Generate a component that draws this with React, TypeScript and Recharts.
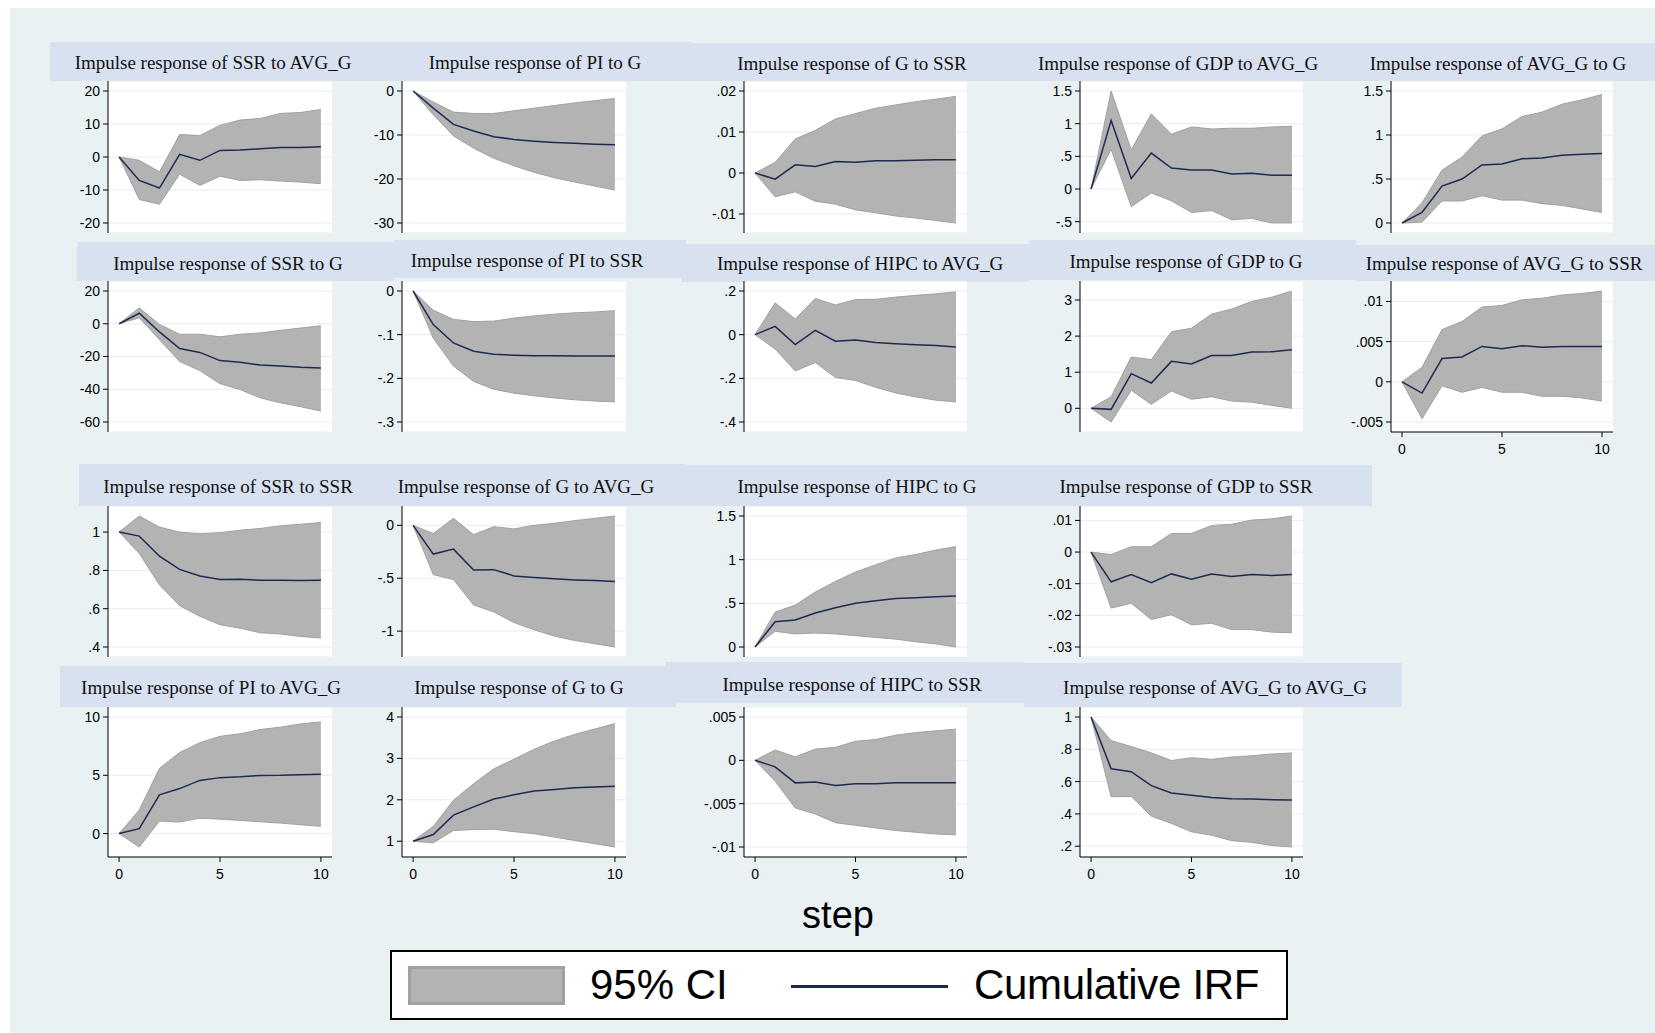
import React from "react";
import { ComposedChart, Area, Line, XAxis, YAxis, CartesianGrid } from "recharts";

// steps 0..10
const steps = [0, 1, 2, 3, 4, 5, 6, 7, 8, 9, 10];
const stepTicks = [0, 5, 10];

// row 1
const ssrAvgIrf = [0, -7.1, -9.4, 0.8, -1.0, 2.0, 2.1, 2.5, 2.9, 2.9, 3.1];
const ssrAvgHi = [0, -1.0, -4.5, 6.8, 6.5, 9.6, 11.2, 11.7, 13.2, 13.5, 14.4];
const ssrAvgLo = [0, -12.9, -14.3, -5.2, -8.6, -5.8, -7.1, -6.9, -7.3, -7.6, -8.1];

const piGIrf = [0, -3.9, -7.6, -9.1, -10.4, -11.0, -11.4, -11.7, -11.9, -12.1, -12.2];
const piGHi = [0, -2.5, -4.8, -5.1, -5.1, -4.5, -3.9, -3.3, -2.7, -2.2, -1.7];
const piGLo = [0, -5.4, -10.2, -13.0, -15.3, -17.0, -18.5, -19.7, -20.7, -21.6, -22.5];

const gSsrIrf = [0, -0.0015, 0.002, 0.0016, 0.0028, 0.0026, 0.003, 0.003, 0.0031, 0.0032, 0.0032];
const gSsrHi = [0, 0.0026, 0.0083, 0.0104, 0.0132, 0.0145, 0.0158, 0.0166, 0.0174, 0.018, 0.0187];
const gSsrLo = [0, -0.0058, -0.0046, -0.0069, -0.0076, -0.009, -0.0097, -0.0105, -0.011, -0.0116, -0.0122];

const gdpAvgIrf = [0, 1.05, 0.16, 0.55, 0.32, 0.29, 0.29, 0.23, 0.24, 0.21, 0.21];
const gdpAvgHi = [0, 1.5, 0.6, 1.15, 0.84, 0.95, 0.92, 0.93, 0.93, 0.95, 0.96];
const gdpAvgLo = [0, 0.61, -0.27, -0.06, -0.18, -0.36, -0.33, -0.47, -0.45, -0.52, -0.52];

const avgGIrf = [0, 0.12, 0.42, 0.5, 0.66, 0.67, 0.73, 0.74, 0.77, 0.78, 0.79];
const avgGHi = [0, 0.23, 0.6, 0.75, 0.99, 1.07, 1.21, 1.26, 1.35, 1.4, 1.46];
const avgGLo = [0, 0.01, 0.25, 0.25, 0.31, 0.26, 0.26, 0.22, 0.2, 0.16, 0.12];

// row 2
const ssrGIrf = [0, 6.4, -5, -15.1, -17.5, -22.5, -23.5, -25.2, -25.8, -26.6, -27];
const ssrGHi = [0, 9.7, -0.4, -6.4, -6.4, -8, -6.4, -5.6, -4, -2.6, -1.2];
const ssrGLo = [0, 3.6, -9.7, -23.1, -28.6, -36.6, -40.2, -45.3, -48.3, -50.7, -53.3];

const piSsrIrf = [0, -0.077, -0.119, -0.138, -0.145, -0.147, -0.148, -0.148, -0.149, -0.149, -0.149];
const piSsrHi = [0, -0.044, -0.065, -0.07, -0.069, -0.062, -0.057, -0.053, -0.05, -0.048, -0.045];
const piSsrLo = [0, -0.108, -0.172, -0.207, -0.225, -0.234, -0.24, -0.245, -0.249, -0.252, -0.254];

const hipcAvgIrf = [0, 0.038, -0.045, 0.02, -0.03, -0.024, -0.036, -0.042, -0.046, -0.05, -0.056];
const hipcAvgHi = [0, 0.146, 0.072, 0.166, 0.136, 0.161, 0.162, 0.172, 0.18, 0.187, 0.196];
const hipcAvgLo = [0, -0.066, -0.166, -0.128, -0.196, -0.21, -0.241, -0.267, -0.285, -0.3, -0.308];

const gdpGIrf = [0, -0.03, 0.96, 0.7, 1.3, 1.23, 1.46, 1.46, 1.56, 1.57, 1.62];
const gdpGHi = [0, 0.32, 1.42, 1.35, 2.12, 2.22, 2.61, 2.75, 2.96, 3.08, 3.25];
const gdpGLo = [0, -0.38, 0.5, 0.11, 0.48, 0.25, 0.32, 0.2, 0.17, 0.08, 0.0];

const avgSsrIrf = [0, -0.0014, 0.0029, 0.0031, 0.0044, 0.0041, 0.0045, 0.0043, 0.0044, 0.0044, 0.0044];
const avgSsrHi = [0, 0.0018, 0.0065, 0.0075, 0.0093, 0.0095, 0.0102, 0.0104, 0.0108, 0.011, 0.0113];
const avgSsrLo = [0, -0.0046, -0.0005, -0.0013, -0.0007, -0.0013, -0.0013, -0.0018, -0.0018, -0.002, -0.0024];

// row 3
const ssrSsrIrf = [1, 0.979, 0.874, 0.805, 0.771, 0.753, 0.754, 0.748, 0.749, 0.747, 0.748];
const ssrSsrHi = [1, 1.084, 1.026, 1.0, 0.991, 0.997, 1.01, 1.019, 1.033, 1.041, 1.05];
const ssrSsrLo = [1, 0.888, 0.724, 0.616, 0.56, 0.516, 0.498, 0.474, 0.468, 0.455, 0.447];

const gAvgIrf = [0, -0.272, -0.225, -0.422, -0.419, -0.478, -0.494, -0.506, -0.516, -0.522, -0.531];
const gAvgHi = [0, -0.078, 0.066, -0.088, -0.013, -0.034, 0.0, 0.019, 0.044, 0.066, 0.088];
const gAvgLo = [0, -0.466, -0.513, -0.753, -0.819, -0.919, -0.988, -1.047, -1.088, -1.119, -1.15];

const hipcGIrf = [0, 0.29, 0.31, 0.39, 0.45, 0.5, 0.53, 0.555, 0.565, 0.575, 0.583];
const hipcGHi = [0, 0.4, 0.48, 0.63, 0.75, 0.86, 0.94, 1.02, 1.06, 1.11, 1.15];
const hipcGLo = [0, 0.18, 0.15, 0.16, 0.15, 0.13, 0.11, 0.09, 0.06, 0.035, 0.0];

const gdpSsrIrf = [0, -0.0094, -0.0071, -0.0097, -0.0069, -0.0086, -0.0069, -0.0077, -0.0071, -0.0074, -0.0071];
const gdpSsrHi = [0, -0.0008, 0.0017, 0.0017, 0.0059, 0.0059, 0.0084, 0.0088, 0.0101, 0.0105, 0.0114];
const gdpSsrLo = [0, -0.0177, -0.0162, -0.0213, -0.0198, -0.023, -0.0225, -0.0245, -0.0245, -0.0253, -0.0255];

// row 4
const piAvgIrf = [0, 0.42, 3.32, 3.86, 4.56, 4.8, 4.87, 4.99, 5.0, 5.05, 5.1];
const piAvgHi = [0, 2.03, 5.6, 6.96, 7.8, 8.34, 8.56, 8.93, 9.13, 9.41, 9.58];
const piAvgLo = [0, -1.15, 1.07, 0.99, 1.32, 1.24, 1.13, 1.01, 0.9, 0.76, 0.62];

const gGIrf = [1, 1.16, 1.63, 1.83, 2.02, 2.12, 2.21, 2.25, 2.29, 2.31, 2.33];
const gGHi = [1, 1.36, 1.99, 2.39, 2.75, 2.98, 3.22, 3.42, 3.58, 3.71, 3.84];
const gGLo = [1, 0.96, 1.26, 1.28, 1.29, 1.23, 1.18, 1.1, 1.02, 0.94, 0.86];

const hipcSsrIrf = [0, -0.00075, -0.0026, -0.0025, -0.0029, -0.0027, -0.0027, -0.0026, -0.0026, -0.0026, -0.0026];
const hipcSsrHi = [0, 0.0012, 0.0004, 0.0013, 0.0015, 0.0022, 0.0024, 0.0029, 0.0032, 0.0034, 0.0036];
const hipcSsrLo = [0, -0.0024, -0.0055, -0.0062, -0.0072, -0.0075, -0.0078, -0.0081, -0.0083, -0.0085, -0.0086];

const avgAvgIrf = [1, 0.679, 0.661, 0.575, 0.53, 0.516, 0.502, 0.494, 0.492, 0.488, 0.486];
const avgAvgHi = [1, 0.854, 0.817, 0.778, 0.73, 0.748, 0.738, 0.752, 0.76, 0.771, 0.777];
const avgAvgLo = [1, 0.506, 0.508, 0.386, 0.341, 0.289, 0.268, 0.234, 0.224, 0.204, 0.195];

const BG = "#e9f1f3";
const BAND = "#d8e1f0";
const CI_FILL = "#b3b3b3";
const CI_EDGE = "#a1a1a1";
const NAVY = "#1d2b52";
const GRID = "#e5edf0";
const YW = 70;
const XH = 34;

const colX = [108, 402, 744, 1080, 1391];
const colW = [224, 224, 223, 223, 222];
const rowTop = [81, 281, 506, 707];
const rowH = [152, 151, 151, 150];

type Panel = {
  row: number;
  col: number;
  irf: number[];
  hi: number[];
  lo: number[];
  ticks: number[];
  showX?: boolean;
};

const panels: Panel[] = [
  { row: 0, col: 0, irf: ssrAvgIrf, hi: ssrAvgHi, lo: ssrAvgLo, ticks: [-20, -10, 0, 10, 20] },
  { row: 0, col: 1, irf: piGIrf, hi: piGHi, lo: piGLo, ticks: [-30, -20, -10, 0] },
  { row: 0, col: 2, irf: gSsrIrf, hi: gSsrHi, lo: gSsrLo, ticks: [-0.01, 0, 0.01, 0.02] },
  { row: 0, col: 3, irf: gdpAvgIrf, hi: gdpAvgHi, lo: gdpAvgLo, ticks: [-0.5, 0, 0.5, 1, 1.5] },
  { row: 0, col: 4, irf: avgGIrf, hi: avgGHi, lo: avgGLo, ticks: [0, 0.5, 1, 1.5] },
  { row: 1, col: 0, irf: ssrGIrf, hi: ssrGHi, lo: ssrGLo, ticks: [-60, -40, -20, 0, 20] },
  { row: 1, col: 1, irf: piSsrIrf, hi: piSsrHi, lo: piSsrLo, ticks: [-0.3, -0.2, -0.1, 0] },
  { row: 1, col: 2, irf: hipcAvgIrf, hi: hipcAvgHi, lo: hipcAvgLo, ticks: [-0.4, -0.2, 0, 0.2] },
  { row: 1, col: 3, irf: gdpGIrf, hi: gdpGHi, lo: gdpGLo, ticks: [0, 1, 2, 3] },
  { row: 1, col: 4, irf: avgSsrIrf, hi: avgSsrHi, lo: avgSsrLo, ticks: [-0.005, 0, 0.005, 0.01], showX: true },
  { row: 2, col: 0, irf: ssrSsrIrf, hi: ssrSsrHi, lo: ssrSsrLo, ticks: [0.4, 0.6, 0.8, 1] },
  { row: 2, col: 1, irf: gAvgIrf, hi: gAvgHi, lo: gAvgLo, ticks: [-1, -0.5, 0] },
  { row: 2, col: 2, irf: hipcGIrf, hi: hipcGHi, lo: hipcGLo, ticks: [0, 0.5, 1, 1.5] },
  { row: 2, col: 3, irf: gdpSsrIrf, hi: gdpSsrHi, lo: gdpSsrLo, ticks: [-0.03, -0.02, -0.01, 0, 0.01] },
  { row: 3, col: 0, irf: piAvgIrf, hi: piAvgHi, lo: piAvgLo, ticks: [0, 5, 10], showX: true },
  { row: 3, col: 1, irf: gGIrf, hi: gGHi, lo: gGLo, ticks: [1, 2, 3, 4], showX: true },
  { row: 3, col: 2, irf: hipcSsrIrf, hi: hipcSsrHi, lo: hipcSsrLo, ticks: [-0.01, -0.005, 0, 0.005], showX: true },
  { row: 3, col: 3, irf: avgAvgIrf, hi: avgAvgHi, lo: avgAvgLo, ticks: [0.2, 0.4, 0.6, 0.8, 1], showX: true },
];

// subtitle bands: [left, top, width, height, text centre x, text centre y]
const titles: { text: string; box: number[] }[] = [
  { text: "Impulse response of SSR to AVG_G", box: [50, 42, 327, 39, 213, 63] },
  { text: "Impulse response of PI to G", box: [377, 42, 314, 39, 535, 63] },
  { text: "Impulse response of G to SSR", box: [691, 43, 338, 38, 852, 64] },
  { text: "Impulse response of GDP to AVG_G", box: [1029, 43, 311, 38, 1178, 64] },
  { text: "Impulse response of AVG_G to G", box: [1340, 43, 315, 38, 1498, 64] },
  { text: "Impulse response of SSR to G", box: [77, 242, 317, 39, 228, 264] },
  { text: "Impulse response of PI to SSR", box: [394, 240, 292, 38, 527, 261] },
  { text: "Impulse response of HIPC to AVG_G", box: [681, 244, 348, 38, 860, 264] },
  { text: "Impulse response of GDP to G", box: [1029, 240, 327, 40, 1186, 262] },
  { text: "Impulse response of AVG_G to SSR", box: [1356, 245, 299, 36, 1504, 264] },
  { text: "Impulse response of SSR to SSR", box: [79, 464, 301, 42, 228, 487] },
  { text: "Impulse response of G to AVG_G", box: [380, 464, 306, 42, 526, 487] },
  { text: "Impulse response of HIPC to G", box: [686, 465, 343, 41, 857, 487] },
  { text: "Impulse response of GDP to SSR", box: [1029, 465, 343, 41, 1186, 487] },
  { text: "Impulse response of PI to AVG_G", box: [60, 666, 309, 41, 211, 688] },
  { text: "Impulse response of G to G", box: [369, 666, 307, 41, 519, 688] },
  { text: "Impulse response of HIPC to SSR", box: [665, 662, 359, 41, 852, 685] },
  { text: "Impulse response of AVG_G to AVG_G", box: [1024, 663, 378, 44, 1215, 688] },
];

const fmt = (v: number) => String(Number(v.toPrecision(6))).replace(/^(-?)0\./, "$1.");

const tickStyle = { fontSize: 14, fill: "#000", fontFamily: "'Liberation Sans', Arial, sans-serif" };

function IrfPanel({ p }: { p: Panel }) {
  const plotW = colW[p.col];
  const plotH = rowH[p.row];
  const h = plotH + (p.showX ? XH : 0);
  const data = steps.map((s, i) => ({ step: s, irf: p.irf[i], ci: [p.lo[i], p.hi[i]] }));
  const lo0 = Math.min(p.ticks[0], ...p.lo);
  const hi0 = Math.max(p.ticks[p.ticks.length - 1], ...p.hi);
  const pad = (10 * (hi0 - lo0)) / (plotH - 20);
  return (
    <div style={{ position: "absolute", left: colX[p.col] - YW, top: rowTop[p.row], width: YW + plotW, height: h }}>
      <ComposedChart width={YW + plotW} height={h} data={data} margin={{ top: 0, right: 0, bottom: 0, left: 0 }}>
        <CartesianGrid vertical={false} stroke={GRID} fill="#ffffff" />
        <XAxis
          dataKey="step"
          type="number"
          domain={[-0.55, 10.55]}
          ticks={stepTicks}
          hide={!p.showX}
          height={XH}
          allowDataOverflow
          stroke="#000"
          tickSize={5}
          tick={tickStyle}
          tickMargin={7}
        />
        <YAxis
          type="number"
          domain={[lo0 - pad, hi0 + pad]}
          ticks={p.ticks}
          allowDataOverflow
          width={YW}
          stroke="#000"
          tickSize={5}
          tickMargin={3}
          tick={tickStyle}
          tickFormatter={fmt}
        />
        <Area
          dataKey="ci"
          type="linear"
          fill={CI_FILL}
          fillOpacity={1}
          stroke={CI_EDGE}
          strokeWidth={1}
          isAnimationActive={false}
        />
        <Line dataKey="irf" type="linear" stroke={NAVY} strokeWidth={1.5} dot={false} isAnimationActive={false} />
      </ComposedChart>
    </div>
  );
}

export default function App() {
  return (
    <div style={{ position: "absolute", left: 0, top: 0, width: 1655, height: 1033, background: "#fff", overflow: "hidden" }}>
      <div style={{ position: "absolute", left: 10, top: 8, width: 1645, height: 1025, background: BG }} />
      {titles.map((t) => {
        const [x, y, w, h, cx, cy] = t.box;
        return (
          <div key={t.text}>
            <div style={{ position: "absolute", left: x, top: y, width: w, height: h, background: BAND }} />
            <div
              style={{
                position: "absolute",
                left: cx - 200,
                width: 400,
                top: cy - 12,
                height: 24,
                lineHeight: "24px",
                textAlign: "center",
                fontFamily: "'Liberation Serif', 'Times New Roman', serif",
                fontSize: 19,
                color: "#111",
                whiteSpace: "nowrap",
              }}
            >
              {t.text}
            </div>
          </div>
        );
      })}
      {panels.map((p) => (
        <IrfPanel key={`${p.row}-${p.col}`} p={p} />
      ))}
      <div
        style={{
          position: "absolute",
          left: 738,
          width: 200,
          top: 893,
          textAlign: "center",
          fontFamily: "'Liberation Sans', Arial, sans-serif",
          fontSize: 38,
          lineHeight: "44px",
          color: "#000",
        }}
      >
        step
      </div>
      <div
        style={{
          position: "absolute",
          left: 390,
          top: 950,
          width: 898,
          height: 70,
          boxSizing: "border-box",
          border: "2px solid #000",
          background: "#fff",
          fontFamily: "'Liberation Sans', Arial, sans-serif",
          fontSize: 42,
          color: "#000",
        }}
      >
        <div
          style={{
            position: "absolute",
            left: 16,
            top: 14,
            width: 157,
            height: 39,
            boxSizing: "border-box",
            background: CI_FILL,
            border: `3px solid ${CI_EDGE}`,
          }}
        />
        <div style={{ position: "absolute", left: 198, top: 8, lineHeight: "50px" }}>95% CI</div>
        <div style={{ position: "absolute", left: 399, top: 33, width: 157, height: 3, background: NAVY }} />
        <div style={{ position: "absolute", left: 582, top: 8, lineHeight: "50px", letterSpacing: "-0.3px" }}>
          Cumulative IRF
        </div>
      </div>
    </div>
  );
}
